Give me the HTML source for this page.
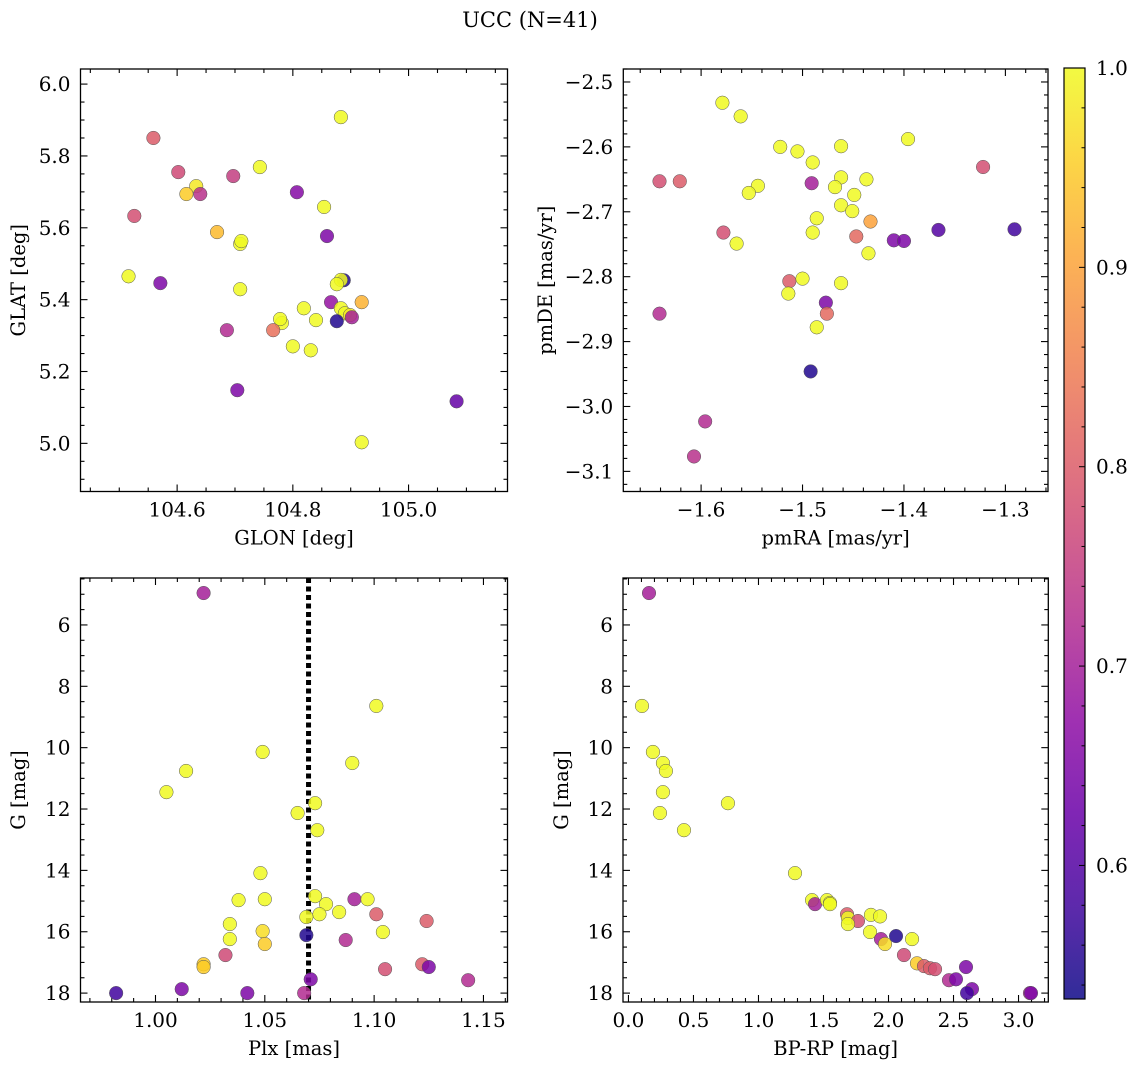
<!DOCTYPE html>
<html><head><meta charset="utf-8">
<style>
html,body{margin:0;padding:0;background:#fff;}
svg{display:block;font-family:"DejaVu Serif","Liberation Serif",serif;}
</style></head>
<body>
<svg id="fig" width="1136" height="1068" viewBox="0 0 1136 1068" xmlns="http://www.w3.org/2000/svg">
<text x="530" y="27" text-anchor="middle" font-size="21">UCC (N=41)</text>
</svg>
<script>
// ---- data ----
const glon = [104.559,104.602,104.526,104.633,104.616,104.640,104.697,104.743,104.807,104.883,104.669,104.709,104.711,104.854,104.859,104.516,104.571,104.709,104.888,104.883,104.876,104.866,104.919,104.819,104.883,104.890,104.899,104.902,104.876,104.840,104.781,104.778,104.766,104.686,104.800,104.831,104.704,105.083,104.919];
const glat = [5.85,5.755,5.633,5.716,5.694,5.694,5.744,5.769,5.699,5.908,5.588,5.555,5.563,5.658,5.577,5.465,5.446,5.429,5.454,5.455,5.443,5.393,5.393,5.376,5.376,5.362,5.357,5.351,5.34,5.343,5.335,5.346,5.315,5.315,5.27,5.259,5.148,5.117,5.003];
const probA = [0.8,0.77,0.78,0.98,0.95,0.73,0.75,1.0,0.66,1.0,0.93,1.0,1.0,1.0,0.65,1.0,0.65,1.0,0.55,1.0,1.0,0.68,0.92,1.0,1.0,1.0,0.98,0.7,0.55,1.0,1.0,1.0,0.83,0.72,1.0,1.0,0.65,0.62,1.0];

const pmra = [-1.579,-1.561,-1.641,-1.621,-1.522,-1.505,-1.490,-1.462,-1.396,-1.322,-1.544,-1.553,-1.491,-1.462,-1.468,-1.437,-1.449,-1.462,-1.451,-1.486,-1.433,-1.578,-1.490,-1.447,-1.410,-1.400,-1.366,-1.291,-1.565,-1.435,-1.462,-1.513,-1.500,-1.514,-1.477,-1.476,-1.486,-1.641,-1.492,-1.596,-1.607];
const pmde = [-2.532,-2.553,-2.653,-2.653,-2.600,-2.607,-2.624,-2.599,-2.588,-2.631,-2.66,-2.671,-2.656,-2.647,-2.662,-2.65,-2.674,-2.69,-2.699,-2.71,-2.715,-2.732,-2.732,-2.738,-2.744,-2.745,-2.728,-2.727,-2.749,-2.764,-2.81,-2.807,-2.803,-2.826,-2.84,-2.857,-2.878,-2.857,-2.946,-3.023,-3.077];
const probB = [1.0,1.0,0.78,0.8,1.0,1.0,1.0,1.0,1.0,0.78,1.0,1.0,0.7,1.0,1.0,1.0,1.0,1.0,1.0,1.0,0.9,0.78,1.0,0.82,0.65,0.65,0.6,0.58,1.0,1.0,1.0,0.8,1.0,1.0,0.65,0.82,1.0,0.72,0.55,0.72,0.73];

const plx = [1.022,1.101,1.049,1.014,1.090,1.005,1.065,1.073,1.074,1.048,1.038,1.050,1.073,1.078,1.075,1.069,1.084,1.091,1.097,1.101,1.124,1.034,1.049,1.034,1.104,1.069,1.050,1.087,1.032,1.022,1.022,1.105,1.122,1.125,1.071,1.143,1.012,0.982,1.042,1.068];
const gmagC = [4.96,8.64,10.14,10.76,10.5,11.45,12.13,11.81,12.69,14.09,14.97,14.94,14.84,15.1,15.43,15.52,15.36,14.94,14.94,15.43,15.65,15.75,15.98,16.24,16.01,16.11,16.4,16.27,16.76,17.06,17.15,17.22,17.06,17.15,17.55,17.58,17.87,18.0,18.0,18.0];
const probC = [0.7,1.0,1.0,1.0,1.0,1.0,1.0,1.0,1.0,1.0,1.0,1.0,1.0,1.0,1.0,1.0,1.0,0.7,1.0,0.8,0.8,1.0,0.97,1.0,1.0,0.55,0.95,0.72,0.77,0.95,0.95,0.78,0.8,0.65,0.65,0.72,0.65,0.58,0.65,0.72];
const plxLine = 1.07;

const bprp = [0.158,0.104,0.188,0.265,0.288,0.265,0.242,0.765,0.427,1.281,1.412,1.435,1.527,1.55,1.55,1.681,1.688,1.765,1.688,1.865,1.935,1.858,1.942,1.973,2.058,2.181,2.119,2.219,2.273,2.319,2.358,2.465,2.519,2.596,2.642,2.604,3.088,3.096];
const gmagD = [4.96,8.64,10.14,10.5,10.76,11.45,12.13,11.81,12.69,14.09,14.97,15.1,14.97,15.06,15.1,15.43,15.55,15.65,15.75,15.45,15.5,16.01,16.24,16.4,16.14,16.24,16.76,17.03,17.12,17.19,17.22,17.58,17.55,17.15,17.87,18.0,18.0,18.0];
const probD = [0.7,1.0,1.0,1.0,1.0,1.0,1.0,1.0,1.0,1.0,1.0,0.7,1.0,1.0,1.0,0.8,1.0,0.78,1.0,1.0,1.0,1.0,0.7,0.97,0.55,1.0,0.77,0.95,0.8,0.8,0.78,0.72,0.65,0.65,0.65,0.58,0.72,0.65];

const cbTicks = [0.6,0.7,0.8,0.9,1.0];
const cbMin = 0.533, cbMax = 1.0;

// ---- helpers ----
const NS = "http://www.w3.org/2000/svg";
const fig = document.getElementById('fig');
const TICK_FS = 20, LABEL_FS = 19.5;
function mk(tag, attrs, parent){
  const e = document.createElementNS(NS, tag);
  for (const k in attrs) e.setAttribute(k, attrs[k]);
  (parent||fig).appendChild(e);
  return e;
}
const stops = ['#0d0887','#41049d','#6a00a8','#8f0da4','#b12a90','#cc4778','#e16462','#f2844b','#fca636','#fcce25','#f0f921'];
function hex2rgb(h){return [parseInt(h.substr(1,2),16),parseInt(h.substr(3,2),16),parseInt(h.substr(5,2),16)];}
function plasma(t){
  t=Math.max(0,Math.min(1,t)); const f=t*10; const i=Math.min(9,Math.floor(f)); const r=f-i;
  const a=hex2rgb(stops[i]), b=hex2rgb(stops[i+1]);
  return 'rgb('+a.map((v,k)=>Math.round(v+(b[k]-v)*r)).join(',')+')';
}
function cmap(p){return plasma((p-cbMin)/(cbMax-cbMin));}
function fmt(v,d){return (v<0?'\u2212':'')+Math.abs(v).toFixed(d);}

function panel(o){
  const g = mk('g',{});
  
  
  const X = v => o.x0 + (v-o.xmin)/(o.xmax-o.xmin)*(o.x1-o.x0);
  const Y = o.yinv ? (v => o.y0 + (v-o.ymin)/(o.ymax-o.ymin)*(o.y1-o.y0))
                   : (v => o.y1 - (v-o.ymin)/(o.ymax-o.ymin)*(o.y1-o.y0));
  const eps=1e-9;
  const tg = mk('g',{stroke:'#000','stroke-width':1.1},g);
  for (let v=Math.ceil(o.xmin/o.xminor-eps)*o.xminor; v<=o.xmax+eps; v+=o.xminor){
    const isMaj = Math.abs(v/o.xmajor-Math.round(v/o.xmajor))<1e-6;
    const L = isMaj?7:4, px=X(v);
    mk('line',{x1:px,x2:px,y1:o.y1,y2:o.y1-L},tg);
    mk('line',{x1:px,x2:px,y1:o.y0,y2:o.y0+L},tg);
    if (isMaj){
      const t = mk('text',{x:px,y:o.y1+25,'text-anchor':'middle','font-size':TICK_FS,stroke:'none',fill:'#000'},g);
      t.textContent = fmt(v,o.xdec);
      
      
    }
  }
  for (let v=Math.ceil(Math.min(o.ymin,o.ymax)/o.yminor-eps)*o.yminor; v<=Math.max(o.ymin,o.ymax)+eps; v+=o.yminor){
    const isMaj = Math.abs(v/o.ymajor-Math.round(v/o.ymajor))<1e-6;
    const L = isMaj?7:4, py=Y(v);
    if (py<o.y0-0.5||py>o.y1+0.5) continue;
    mk('line',{x1:o.x0,x2:o.x0+L,y1:py,y2:py},tg);
    mk('line',{x1:o.x1,x2:o.x1-L,y1:py,y2:py},tg);
    if (isMaj){
      const t = mk('text',{x:o.x0-10,y:py+7,'text-anchor':'end','font-size':TICK_FS,fill:'#000'},g);
      t.textContent = fmt(v,o.ydec);
      
      
    }
  }
  if (o.vline!==undefined){
    const l = mk('line',{x1:X(o.vline),x2:X(o.vline),y1:o.y0,y2:o.y1,stroke:'#000','stroke-width':5,'stroke-dasharray':'5,3.5'},g);
    
    
  }
  const pg = mk('g',{},g);
  for (let i=0;i<o.xs.length;i++){
    const c = mk('circle',{cx:X(o.xs[i]),cy:Y(o.ys[i]),r:6.8,fill:cmap(o.ps[i]),'fill-opacity':0.85,stroke:'#555','stroke-width':0.5},pg);
    
    
  }
  const fr = mk('rect',{x:o.x0,y:o.y0,width:o.x1-o.x0,height:o.y1-o.y0,fill:'none',stroke:'#000','stroke-width':1.3},g);
  
  
  const xl = mk('text',{x:(o.x0+o.x1)/2,y:o.y1+53,'text-anchor':'middle','font-size':LABEL_FS},g);
  xl.textContent=o.xlabel;
  
  
  const yc=(o.y0+o.y1)/2;
  const yl = mk('text',{x:o.ylx,y:yc,'text-anchor':'middle','font-size':LABEL_FS,transform:'rotate(-90 '+o.ylx+' '+yc+')'},g);
  yl.textContent=o.ylabel;
  
  
}

panel({name:'glon-glat-panel',x0:80.5,x1:507.5,y0:69,y1:491.5,xmin:104.433,xmax:105.171,ymin:4.866,ymax:6.042,
  xmajor:0.2,xminor:0.05,ymajor:0.2,yminor:0.05,xdec:1,ydec:1,xs:glon,ys:glat,ps:probA,xlabel:'GLON [deg]',ylabel:'GLAT [deg]',ylx:25});
panel({name:'pm-panel',x0:623.3,x1:1048,y0:69,y1:491.5,xmin:-1.6767,xmax:-1.258,ymin:-3.131,ymax:-2.48,
  xmajor:0.1,xminor:0.02,ymajor:0.1,yminor:0.02,xdec:1,ydec:1,xs:pmra,ys:pmde,ps:probB,xlabel:'pmRA [mas/yr]',ylabel:'pmDE [mas/yr]',ylx:552});
panel({name:'plx-g-panel',x0:80.5,x1:507.5,y0:578,y1:1002,xmin:0.9657,xmax:1.161,ymin:4.47,ymax:18.29,yinv:true,
  xmajor:0.05,xminor:0.01,ymajor:2,yminor:0.5,xdec:2,ydec:0,xs:plx,ys:gmagC,ps:probC,vline:plxLine,xlabel:'Plx [mas]',ylabel:'G [mag]',ylx:25});
panel({name:'cmd-panel',x0:623,x1:1048.3,y0:578,y1:1002,xmin:-0.042,xmax:3.229,ymin:4.47,ymax:18.29,yinv:true,
  xmajor:0.5,xminor:0.1,ymajor:2,yminor:0.5,xdec:1,ydec:0,xs:bprp,ys:gmagD,ps:probD,xlabel:'BP-RP [mag]',ylabel:'G [mag]',ylx:568});

(function(){
  const cx0=1064, cx1=1085, cy0=68, cy1=999;
  const g = mk('g',{});
  
  
  const defs = mk('defs',{},g);
  const lg = mk('linearGradient',{id:'cbg',x1:0,y1:1,x2:0,y2:0},defs);
  for (let k=0;k<=20;k++){ mk('stop',{offset:k/20,'stop-color':plasma(k/20)},lg); }
  const r = mk('rect',{x:cx0,y:cy0,width:cx1-cx0,height:cy1-cy0,fill:'url(#cbg)','fill-opacity':0.85},g);
  
  
  const Yc = v => cy1-(v-cbMin)/(cbMax-cbMin)*(cy1-cy0);
  for (let v=0.54; v<=1.0001; v+=0.02){
    const py=Yc(v); const isMaj=Math.abs(v*10-Math.round(v*10))<1e-6;
    mk('line',{x1:cx1,x2:cx1-(isMaj?6:3.5),y1:py,y2:py,stroke:'#000','stroke-width':1},g);
  }
  cbTicks.forEach(v=>{
    const t = mk('text',{x:cx1+11,y:Yc(v)+7,'font-size':TICK_FS},g);
    t.textContent=v.toFixed(1);
    
    
  });
  mk('rect',{x:cx0,y:cy0,width:cx1-cx0,height:cy1-cy0,fill:'none',stroke:'#000','stroke-width':1.2},g);
})();
</script>
</body></html>
